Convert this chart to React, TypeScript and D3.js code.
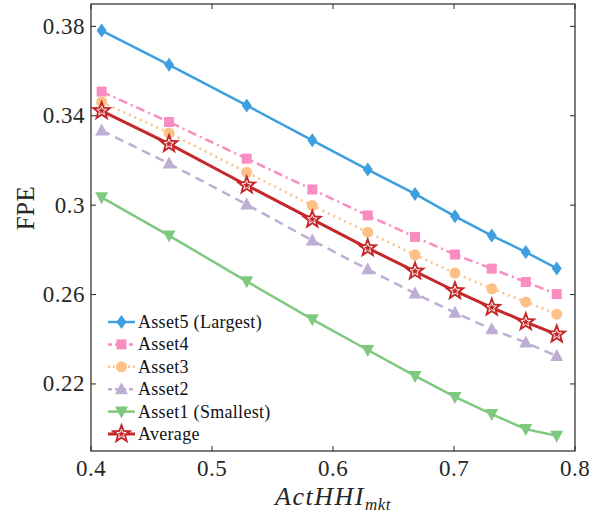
import React from "react";
import * as d3 from "d3";

const xValues = [0.4088, 0.4645, 0.5287, 0.5829, 0.6287, 0.6678, 0.7008, 0.7312, 0.7593, 0.7849];
const asset5 = [0.3781, 0.3628, 0.3446, 0.329, 0.3159, 0.305, 0.295, 0.2864, 0.279, 0.2717];
const asset4 = [0.3508, 0.3372, 0.3208, 0.307, 0.2954, 0.2858, 0.2779, 0.2716, 0.2656, 0.2602];
const asset3 = [0.3461, 0.3323, 0.3147, 0.2998, 0.2879, 0.2778, 0.2696, 0.2626, 0.2567, 0.2512];
const asset2 = [0.3334, 0.3186, 0.3003, 0.2842, 0.2713, 0.2605, 0.2519, 0.2445, 0.2385, 0.2325];
const asset1 = [0.3035, 0.2864, 0.2659, 0.2489, 0.2352, 0.2236, 0.2142, 0.2065, 0.1998, 0.1968];
const average = [0.3422, 0.3274, 0.3089, 0.2936, 0.2808, 0.2704, 0.2616, 0.2542, 0.2477, 0.2422];

const xTicks = [0.4, 0.5, 0.6, 0.7, 0.8];
const yTicks = [0.22, 0.26, 0.3, 0.34, 0.38];

const seriesNames = ["Asset5 (Largest)", "Asset4", "Asset3", "Asset2", "Asset1 (Smallest)", "Average"];

type S = { name: string; values: number[]; color: string; dash: string; marker: string; width: number };
const series: S[] = [
  { name: seriesNames[0], values: asset5, color: "#3d9fdf", dash: "", marker: "diamond", width: 2.5 },
  { name: seriesNames[1], values: asset4, color: "#f98cc1", dash: "9,4,2,4", marker: "square", width: 2.5 },
  { name: seriesNames[2], values: asset3, color: "#fdc086", dash: "2,4", marker: "circle", width: 2.5 },
  { name: seriesNames[3], values: asset2, color: "#beaed4", dash: "9,6", marker: "triUp", width: 2.5 },
  { name: seriesNames[4], values: asset1, color: "#7fc97f", dash: "", marker: "triDown", width: 2.5 },
  { name: seriesNames[5], values: average, color: "#c5282b", dash: "", marker: "star", width: 3 },
];

const FONT = "'Liberation Serif', 'DejaVu Serif', serif";

function starPath(ro: number, ri: number) {
  const pts: string[] = [];
  for (let i = 0; i < 10; i++) {
    const r = i % 2 === 0 ? ro : ri;
    const a = -Math.PI / 2 + (i * Math.PI) / 5;
    pts.push(`${(r * Math.cos(a)).toFixed(2)},${(r * Math.sin(a)).toFixed(2)}`);
  }
  return "M" + pts.join("L") + "Z";
}

function Marker({ type, x, y, color }: { type: string; x: number; y: number; color: string }) {
  const t = `translate(${x},${y})`;
  switch (type) {
    case "diamond":
      return <path transform={t} d="M0,-7L5,0L0,7L-5,0Z" fill={color} />;
    case "square":
      return <rect transform={t} x={-5} y={-5} width={10} height={10} fill={color} />;
    case "circle":
      return <circle transform={t} r={5.5} fill={color} />;
    case "triUp":
      return <path transform={t} d="M0,-7L6.5,5L-6.5,5Z" fill={color} />;
    case "triDown":
      return <path transform={t} d="M0,7L6.5,-5L-6.5,-5Z" fill={color} />;
    case "star":
      return (
        <g transform={t}>
          <path d={starPath(11.5, 4.8)} fill={color} />
          <path d={starPath(5, 2.1)} fill="none" stroke="#ffffff" strokeWidth={0.9} />
        </g>
      );
  }
  return null;
}

export default function App() {
  const W = 589, H = 521;
  const left = 91, right = 575, top = 4, bottom = 451;
  const x = d3.scaleLinear().domain([0.4, 0.8]).range([left, right]);
  const y = d3.scaleLinear().domain([0.19, 0.39]).range([bottom, top]);
  const line = d3.line<number>().x((_, i) => x(xValues[i])).y((d) => y(d));
  const axisColor = "#262626";

  return (
    <svg width={W} height={H} style={{ position: "absolute", left: 0, top: 0 }}>
      <rect x={0} y={0} width={W} height={H} fill="#fff" />
      {series.map((s) => (
        <g key={s.name}>
          <path d={line(s.values) || ""} fill="none" stroke={s.color} strokeWidth={s.width} strokeDasharray={s.dash} />
          {s.values.map((v, i) => (
            <Marker key={i} type={s.marker} x={x(xValues[i])} y={y(v)} color={s.color} />
          ))}
        </g>
      ))}
      <rect x={left} y={top} width={right - left} height={bottom - top} fill="none" stroke={axisColor} strokeWidth={1.2} />
      {xTicks.map((t) => (
        <g key={t}>
          <line x1={x(t)} x2={x(t)} y1={bottom} y2={bottom - 5} stroke={axisColor} />
          <line x1={x(t)} x2={x(t)} y1={top} y2={top + 5} stroke={axisColor} />
          <text x={x(t)} y={476} textAnchor="middle" fontFamily={FONT} fontSize={23} fill="#262626" letterSpacing={0.5}>
            {String(t)}
          </text>
        </g>
      ))}
      {yTicks.map((t) => (
        <g key={t}>
          <line x1={left} x2={left + 5} y1={y(t)} y2={y(t)} stroke={axisColor} />
          <line x1={right} x2={right - 5} y1={y(t)} y2={y(t)} stroke={axisColor} />
          <text x={85} y={y(t) + 7.5} textAnchor="end" fontFamily={FONT} fontSize={23} fill="#262626" letterSpacing={0.5}>
            {String(t)}
          </text>
        </g>
      ))}
      <text transform={`translate(34,208) rotate(-90)`} textAnchor="middle" fontFamily={FONT} fontSize={25} fill="#262626" letterSpacing={0.5}>
        FPE
      </text>
      <text x={(left + right) / 2} y={505} textAnchor="middle" fontFamily={FONT} fontSize={26} fontStyle="italic" fill="#262626" letterSpacing={1.5}>
        ActHHI<tspan fontSize={17} dy={5} letterSpacing={0.5}>mkt</tspan>
      </text>
      {series.map((s, i) => {
        const ly = 322 + i * 22.4;
        return (
          <g key={"lg" + s.name}>
            <line x1={108} x2={135} y1={ly} y2={ly} stroke={s.color} strokeWidth={s.width} strokeDasharray={s.dash ? (s.marker === "circle" ? "2,3" : "4,3") : ""} />
            <Marker type={s.marker} x={121.5} y={ly} color={s.color} />
            <text x={138} y={ly + 6} fontFamily={FONT} fontSize={18} fill="#111" letterSpacing={0.3}>
              {s.name}
            </text>
          </g>
        );
      })}
    </svg>
  );
}
